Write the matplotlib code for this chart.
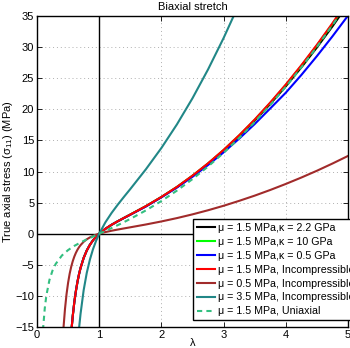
import matplotlib
matplotlib.use('Agg')
import matplotlib.pyplot as plt
import numpy as np

plt.rcParams['font.family'] = ['Liberation Sans', 'DejaVu Sans']
plt.rcParams['font.size'] = 8
plt.rcParams['mathtext.fontset'] = 'custom'
plt.rcParams['mathtext.rm'] = 'Liberation Sans'
plt.rcParams['mathtext.it'] = 'Liberation Sans'

# stretch values (biaxial curves)
lam = [0.42, 0.425, 0.45, 0.475, 0.5, 0.525, 0.55, 0.575, 0.6, 0.625, 0.65, 0.675,
       0.7, 0.75, 0.8, 0.85, 0.9, 0.95, 1.0, 1.1, 1.2, 1.3, 1.4, 1.5, 1.75, 2.0,
       2.25, 2.5, 2.75, 3.0, 3.25, 3.5, 3.75, 4.0, 4.25, 4.5, 4.75, 5.0]

# true axial stress (MPa)
s_inc_15 = [-47.9, -45.7, -36.3, -29.1, -23.6, -19.3, -15.9, -13.2, -11.0, -9.24, -7.77, -6.54,
            -5.51, -3.90, -2.70, -1.79, -1.07, -0.49, 0, 0.79, 1.44, 2.01, 2.55, 3.08, 4.43, 5.91,
            7.53, 9.34, 11.32, 13.48, 15.83, 18.36, 21.09, 23.99, 27.09, 30.37, 33.84, 37.50]
s_k22 = [-47.9, -45.7, -36.3, -29.1, -23.6, -19.3, -15.9, -13.2, -11.0, -9.24, -7.77, -6.54,
         -5.51, -3.90, -2.70, -1.79, -1.07, -0.49, 0, 0.79, 1.44, 2.01, 2.54, 3.07, 4.41, 5.89,
         7.49, 9.28, 11.24, 13.37, 15.69, 18.18, 20.86, 23.70, 26.74, 29.94, 33.33, 36.90]
s_k10 = [-47.9, -45.7, -36.3, -29.1, -23.6, -19.3, -15.9, -13.2, -11.0, -9.24, -7.77, -6.54,
         -5.51, -3.90, -2.70, -1.79, -1.07, -0.49, 0, 0.79, 1.44, 2.01, 2.55, 3.08, 4.42, 5.90,
         7.51, 9.32, 11.29, 13.44, 15.78, 18.30, 21.02, 23.91, 26.99, 30.26, 33.71, 37.35]
s_k05 = [-47.9, -45.7, -36.3, -29.1, -23.6, -19.3, -15.9, -13.2, -11.0, -9.24, -7.77, -6.54,
         -5.51, -3.90, -2.70, -1.79, -1.07, -0.49, 0, 0.79, 1.44, 2.00, 2.53, 3.05, 4.37, 5.85,
         7.42, 9.15, 11.04, 13.08, 15.28, 17.63, 20.14, 22.67, 25.52, 28.55, 31.73, 35.06]
s_inc_05 = [-15.98, -15.24, -12.10, -9.71, -7.88, -6.44, -5.31, -4.41, -3.68, -3.08, -2.59, -2.18,
            -1.84, -1.30, -0.90, -0.60, -0.36, -0.16, 0, 0.26, 0.48, 0.67, 0.85, 1.03, 1.48, 1.97,
            2.51, 3.11, 3.77, 4.49, 5.28, 6.12, 7.03, 8.00, 9.03, 10.12, 11.28, 12.50]
s_inc_35 = [-111.9, -106.6, -84.7, -68.0, -55.1, -45.1, -37.2, -30.9, -25.7, -21.6, -18.1, -15.3,
            -12.9, -9.09, -6.30, -4.18, -2.50, -1.14, 0, 1.84, 3.35, 4.69, 5.95, 7.18, 10.35, 13.78,
            17.58, 21.78, 26.41, 31.46, 36.94, 42.85, 49.2, 56.0, 63.2, 70.9, 79.0, 87.5]

# uniaxial curve
lam_uni = [0.05, 0.075, 0.1, 0.125, 0.15, 0.2, 0.25, 0.3, 0.4, 0.5, 0.6, 0.7, 0.8, 0.9, 1.0,
           1.1, 1.2, 1.3, 1.4, 1.5, 1.75, 2.0, 2.25, 2.5, 2.75, 3.0, 3.25, 3.5, 3.75, 4.0,
           4.25, 4.5, 4.75, 5.0]
s_uni = [-30.0, -20.0, -14.99, -11.98, -9.97, -7.44, -5.91, -4.87, -3.51, -2.63, -1.96, -1.41,
         -0.915, -0.45, 0, 0.45, 0.91, 1.38, 1.87, 2.38, 3.74, 5.25, 6.93, 8.78, 10.80, 13.0,
         15.38, 17.95, 20.69, 23.63, 26.74, 30.04, 33.53, 37.2]

labels = [u'\u03bc = 1.5 MPa,\u03ba = 2.2 GPa',
          u'\u03bc = 1.5 MPa,\u03ba = 10 GPa',
          u'\u03bc = 1.5 MPa,\u03ba = 0.5 GPa',
          u'\u03bc = 1.5 MPa, Incompressible',
          u'\u03bc = 0.5 MPa, Incompressible',
          u'\u03bc = 3.5 MPa, Incompressible',
          u'\u03bc = 1.5 MPa, Uniaxial']

fig = plt.figure(figsize=(3.5, 3.48), dpi=100)
ax = fig.add_axes([37/350, 1-327/348, 311/350, 311/348])
ax.set_axisbelow(True)

ax.axvline(1, color='k', lw=1, zorder=1.8)
ax.axhline(0, color='k', lw=1, zorder=1.8)

ax.plot(lam, s_k22, color='k', lw=1.5, label=labels[0])
ax.plot(lam, s_k10, color=(0, 1, 0), lw=1.5, label=labels[1])
ax.plot(lam, s_k05, color='b', lw=1.5, label=labels[2])
ax.plot(lam, s_inc_15, color='r', lw=1.5, label=labels[3])
ax.plot(lam, s_inc_05, color=(0.63, 0.17, 0.17), lw=1.5, label=labels[4])
ax.plot(lam, s_inc_35, color=(0.13, 0.53, 0.53), lw=1.5, label=labels[5])
ax.plot(lam_uni, s_uni, color=(0.2, 0.75, 0.5), lw=1.5, dashes=(2.5, 2), label=labels[6])

ax.set_xlim(0, 5)
ax.set_ylim(-15, 35)
ax.set_xticks([0, 1, 2, 3, 4, 5])
ax.set_yticks(np.arange(-15, 36, 5))
ax.set_yticklabels([str(v).replace('-', u'\u2212') for v in range(-15, 36, 5)])
ax.grid(True, color='#b0b0b0', linestyle=(0, (1, 3)), lw=0.7)
ax.tick_params(direction='in', top=True, right=True, length=3.5, width=0.6, pad=2)
for sp in ax.spines.values():
    sp.set_linewidth(1)
    sp.set_zorder(3)

ax.set_title('Biaxial stretch', fontsize=8, pad=4)
ax.set_xlabel(u'\u03bb', labelpad=-1)
ax.set_ylabel(u'True axial stress (\u03c3$_{11}$) (MPa)', labelpad=0.5)

ax.legend(loc='lower left', bbox_to_anchor=(193/350, 1-320/348), bbox_transform=fig.transFigure,
          prop={'size': 7.7}, frameon=True, fancybox=False, edgecolor='k', framealpha=1,
          handlelength=1.7, handletextpad=0.25, borderpad=0.35, labelspacing=0.36,
          borderaxespad=0)

fig.savefig('out.png', dpi=100)
